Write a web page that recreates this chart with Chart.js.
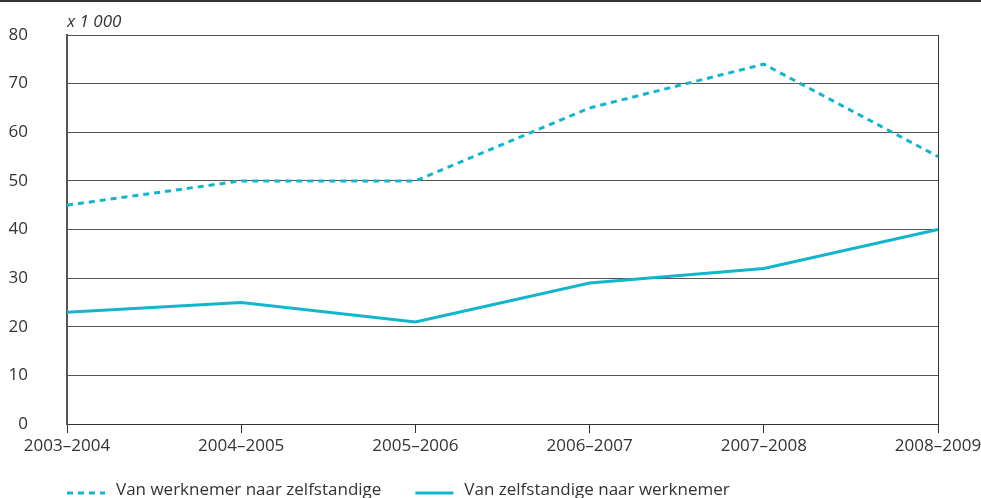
<!DOCTYPE html>
<html>
<head>
<meta charset="utf-8">
<script src="https://cdn.jsdelivr.net/npm/chart.js@4/dist/chart.umd.min.js"></script>
<style>
  html, body { margin: 0; padding: 0; background: #fff; }
  #wrap { width: 981px; height: 498px; position: relative; }
</style>
</head>
<body>
<div id="wrap"><canvas id="c" width="981" height="498"></canvas></div>
<script>
const categories = ['2003–2004', '2004–2005', '2005–2006', '2006–2007', '2007–2008', '2008–2009'];
const werknemerNaarZelfstandige = [45, 50, 50, 65, 74, 55];
const zelfstandigeNaarWerknemer = [23, 25, 21, 29, 32, 40];
const seriesLabels = ['Van werknemer naar zelfstandige', 'Van zelfstandige naar werknemer'];
const yUnitLabel = 'x 1 000';

const FONT = '"Open Sans", "Noto Sans", sans-serif';
const TEXT = '#333333';
const LINE = '#12b5cc';

const decor = {
  id: 'decor',
  afterDraw(chart) {
    const ctx = chart.ctx;
    const a = chart.chartArea;
    ctx.save();
    ctx.fillStyle = '#333';
    ctx.fillRect(0, 0, chart.width, 2);
    ctx.fillStyle = TEXT;
    ctx.font = 'italic 17px ' + FONT;
    ctx.textAlign = 'left';
    ctx.textBaseline = 'alphabetic';
    ctx.fillText(yUnitLabel, a.left, a.top - 8);
    let x = a.left;
    const y = 493;
    ctx.font = '17px ' + FONT;
    chart.data.datasets.forEach((ds) => {
      ctx.strokeStyle = ds.borderColor;
      ctx.lineWidth = 3;
      ctx.setLineDash(ds.borderDash || []);
      ctx.beginPath();
      ctx.moveTo(x, y);
      ctx.lineTo(x + 38, y);
      ctx.stroke();
      ctx.setLineDash([]);
      ctx.fillStyle = TEXT;
      ctx.fillText(ds.label, x + 49, y + 2);
      x += 49 + ctx.measureText(ds.label).width + 34;
    });
    ctx.restore();
  }
};

new Chart(document.getElementById('c'), {
  type: 'line',
  data: {
    labels: categories,
    datasets: [
      {
        label: seriesLabels[0],
        data: werknemerNaarZelfstandige,
        borderColor: LINE,
        borderWidth: 3,
        borderDash: [6, 5],
        pointRadius: 0,
        tension: 0,
        fill: false
      },
      {
        label: seriesLabels[1],
        data: zelfstandigeNaarWerknemer,
        borderColor: LINE,
        borderWidth: 3,
        pointRadius: 0,
        tension: 0,
        fill: false
      }
    ]
  },
  options: {
    responsive: false,
    animation: false,
    devicePixelRatio: 1,
    layout: { padding: { top: 35, right: 43, left: 0, bottom: 0 } },
    plugins: {
      legend: { display: false },
      tooltip: { enabled: false },
      title: { display: false }
    },
    scales: {
      x: {
        type: 'category',
        offset: false,
        grid: {
          color: (c) => c.index === categories.length - 1 ? '#333' : 'rgba(0,0,0,0)',
          tickColor: '#333',
          tickLength: 9,
          lineWidth: 1
        },
        border: { display: true, color: '#333', width: 1 },
        ticks: {
          font: { family: FONT, size: 17 },
          color: TEXT,
          padding: 3,
          maxRotation: 0,
          autoSkip: false
        },
        afterFit(scale) {
          scale.height = 74;
          scale.paddingLeft = 0;
          scale.paddingRight = 0;
        }
      },
      y: {
        min: 0,
        max: 80,
        ticks: {
          stepSize: 10,
          font: { family: FONT, size: 17 },
          color: TEXT,
          padding: 39
        },
        grid: {
          color: '#555',
          lineWidth: 1,
          drawTicks: false
        },
        border: { display: true, color: '#555', width: 2 },
        afterFit(scale) {
          scale.width = 67;
          scale.paddingTop = 0;
          scale.paddingBottom = 0;
        }
      }
    }
  },
  plugins: [decor]
});
</script>
</body>
</html>
